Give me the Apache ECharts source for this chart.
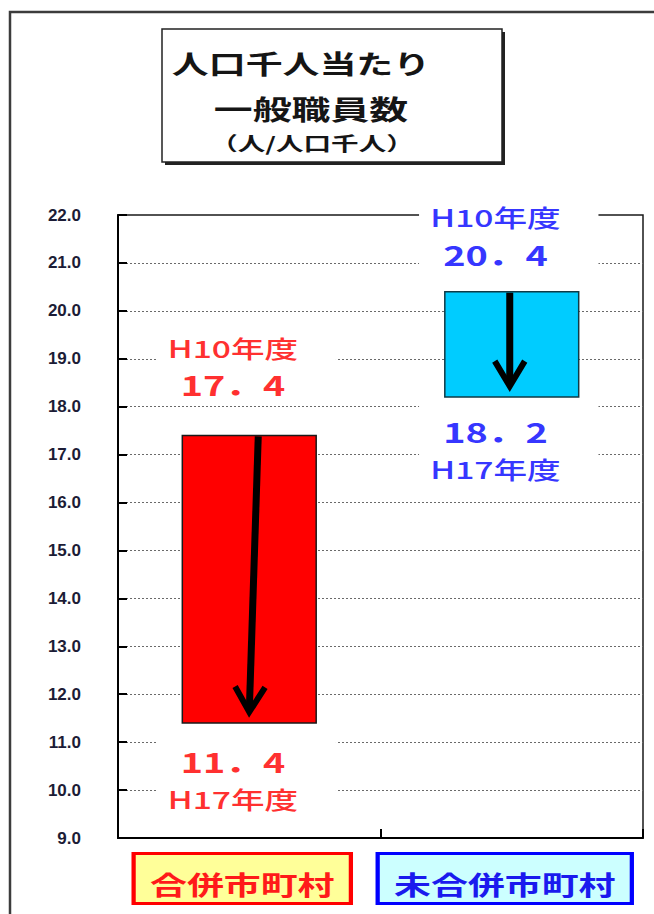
<!DOCTYPE html>
<html>
<head>
<meta charset="utf-8">
<script src="https://cdn.jsdelivr.net/npm/echarts@6/dist/echarts.min.js"></script>
<style>
  html, body { margin: 0; padding: 0; background: #fff; }
  #chart { width: 654px; height: 914px; }
</style>
</head>
<body>
<div id="chart"></div>
<script>
// ---- data ----
const categories = ['合併市町村', '未合併市町村'];
const valuesH10 = [17.4, 20.4];
const valuesH17 = [11.4, 18.2];
const startYearLabel = 'H10年度';
const endYearLabel = 'H17年度';
const yTickValues = [9, 10, 11, 12, 13, 14, 15, 16, 17, 18, 19, 20, 21, 22];
const titleLines = ['人口千人当たり', '一般職員数', '（人/人口千人）'];

// ---- styling ----
const JP = '"Noto Sans CJK JP", "Noto Sans CJK SC", sans-serif';
const WIDE = 1.4;                      // horizontal stretch of the Japanese lettering
const colors = [
  { bar: '#ff0000', edge: '#1a1a1a', text: '#ff3030', boxFill: '#ffff99', boxEdge: '#ff0000', cat: '#ff1a1a' },
  { bar: '#00ccff', edge: '#0f3a46', text: '#3636ff', boxFill: '#ccffff', boxEdge: '#0000ff', cat: '#1a1aee' }
];
const topGap = [34, 21];               // px between bar top and its upper label box
const bottomGap = [7, 3];              // px between bar bottom and its lower label box
const arrowShift = [[9, 0], [-2, -2]]; // [shaft top, tip] horizontal nudges

const yMin = yTickValues[0];
const yMax = yTickValues[yTickValues.length - 1];
const yStep = yTickValues[1] - yTickValues[0];

const fmtValue = v => v.toFixed(1).replace('.', '．');

const chart = echarts.init(document.getElementById('chart'), null, { renderer: 'svg' });

function renderRange(params, api) {
  const i = api.value(0);
  const from = api.value(1);
  const to = api.value(2);
  const c = colors[i];
  const pTop = api.coord([i, from]);
  const pBot = api.coord([i, to]);
  const cx = pTop[0];
  const bw = api.size([1, 0])[0] * 0.51;

  const top = [cx + arrowShift[i][0], pTop[1] + 1];
  const tip = [cx + arrowShift[i][1], pBot[1] - 11];
  const dx = tip[0] - top[0], dy = tip[1] - top[1];
  const len = Math.sqrt(dx * dx + dy * dy);
  const ux = dx / len, uy = dy / len;
  const px = -uy, py = ux;
  const back = 25, half = 15;
  const armL = [tip[0] - ux * back + px * half, tip[1] - uy * back + py * half];
  const armR = [tip[0] - ux * back - px * half, tip[1] - uy * back - py * half];

  const richA = { font: '500 24px ' + JP, fill: c.text, lineHeight: 40 };
  const richB = { font: 'bold 27px ' + JP, fill: c.text, lineHeight: 34 };

  return {
    type: 'group',
    children: [
      {
        type: 'rect',
        shape: { x: cx - bw / 2, y: pTop[1], width: bw, height: pBot[1] - pTop[1] },
        style: { fill: c.bar, stroke: c.edge, lineWidth: 1.5 }
      },
      {
        type: 'polyline',
        shape: { points: [top, [tip[0] - ux * 3, tip[1] - uy * 3]] },
        style: { stroke: '#000', lineWidth: 7, fill: null, lineCap: 'butt' }
      },
      {
        type: 'polyline',
        shape: { points: [armL, tip, armR] },
        style: { stroke: '#000', lineWidth: 6, fill: null, lineJoin: 'miter', lineCap: 'butt' }
      },
      {
        type: 'text',
        x: cx - 3,
        y: pTop[1] - topGap[i],
        scaleX: WIDE,
        style: {
          text: '{a|' + startYearLabel + '}\n{b|' + fmtValue(from) + '}',
          rich: { a: richA, b: richB },
          align: 'center', textAlign: 'center',
          verticalAlign: 'bottom', textVerticalAlign: 'bottom',
          backgroundColor: '#fff',
          padding: [6, 27, 0, 8]
        }
      },
      {
        type: 'text',
        x: cx - 3,
        y: pBot[1] + bottomGap[i],
        scaleX: WIDE,
        style: {
          text: '{b|' + fmtValue(to) + '}\n{a|' + endYearLabel + '}',
          rich: { a: richA, b: richB },
          align: 'center', textAlign: 'center',
          verticalAlign: 'top', textVerticalAlign: 'top',
          backgroundColor: '#fff',
          padding: [14, 27, 4, 8]
        }
      }
    ]
  };
}

function renderCategoryBox(params, api) {
  const i = api.value(0);
  const c = colors[i];
  const p = api.coord([i, api.value(1)]);
  return {
    type: 'text',
    x: p[0] - 7,
    y: p[1] + 17,
    scaleX: 1.42,
    style: {
      text: categories[params.dataIndex],
      font: 'bold 26px ' + JP,
      fill: c.cat,
      align: 'center', textAlign: 'center',
      verticalAlign: 'top', textVerticalAlign: 'top',
      lineHeight: 30,
      backgroundColor: c.boxFill,
      borderColor: c.boxEdge,
      borderWidth: 3,
      padding: [14, 10, 3, 10]
    }
  };
}

const titleStyle = (text, size) => ({
  text,
  font: 'bold ' + size + 'px ' + JP,
  fill: '#151515',
  align: 'center', textAlign: 'center',
  verticalAlign: 'middle', textVerticalAlign: 'middle'
});

chart.setOption({
  animation: false,
  backgroundColor: '#fff',
  grid: {
    left: 118, right: 11, top: 215, bottom: 76,
    show: true, borderColor: '#1a1a1a', borderWidth: 1.5, backgroundColor: '#fff'
  },
  xAxis: {
    type: 'category',
    data: categories,
    boundaryGap: true,
    axisLine: { lineStyle: { color: '#000', width: 2 } },
    axisTick: { show: true, inside: true, length: 9, alignWithLabel: false, lineStyle: { color: '#000', width: 2 } },
    axisLabel: { show: false },
    splitLine: { show: false }
  },
  yAxis: {
    type: 'value',
    min: yMin, max: yMax, interval: yStep,
    axisLine: { show: true, lineStyle: { color: '#000', width: 2 } },
    axisTick: { show: true, inside: true, length: 9, lineStyle: { color: '#000', width: 2 } },
    axisLabel: {
      formatter: v => v.toFixed(1),
      color: '#1c1c36', fontSize: 17, fontWeight: 'bold',
      fontFamily: '"Liberation Sans", Arial, sans-serif', margin: 37
    },
    splitLine: { show: true, showMaxLine: false, showMinLine: false, lineStyle: { color: '#6a6a6a', width: 1, type: [2, 2] } }
  },
  graphic: [
    { type: 'rect', shape: { x: 10, y: 12, width: 700, height: 950 }, style: { fill: 'none', stroke: '#3c3c3c', lineWidth: 2.5 } },
    { type: 'rect', shape: { x: 165, y: 32, width: 340, height: 133 }, style: { fill: '#222' } },
    { type: 'rect', shape: { x: 162, y: 29, width: 340, height: 133 }, style: { fill: '#fff', stroke: '#222', lineWidth: 1.5 } },
    { type: 'text', x: 301, y: 63, scaleX: 1.42, style: titleStyle(titleLines[0], 26) },
    { type: 'text', x: 311, y: 108, scaleX: 1.44, style: titleStyle(titleLines[1], 27) },
    { type: 'text', x: 312, y: 143, scaleX: 1.45, style: titleStyle(titleLines[2], 19) }
  ],
  series: [
    {
      type: 'custom',
      clip: false,
      renderItem: renderRange,
      encode: { x: 0, y: [1, 2] },
      data: categories.map((c, i) => [i, valuesH10[i], valuesH17[i]]),
      z: 3
    },
    {
      type: 'custom',
      clip: false,
      renderItem: renderCategoryBox,
      encode: { x: 0, y: 1 },
      data: categories.map((c, i) => [i, yMin]),
      z: 3
    }
  ]
});
</script>
</body>
</html>
